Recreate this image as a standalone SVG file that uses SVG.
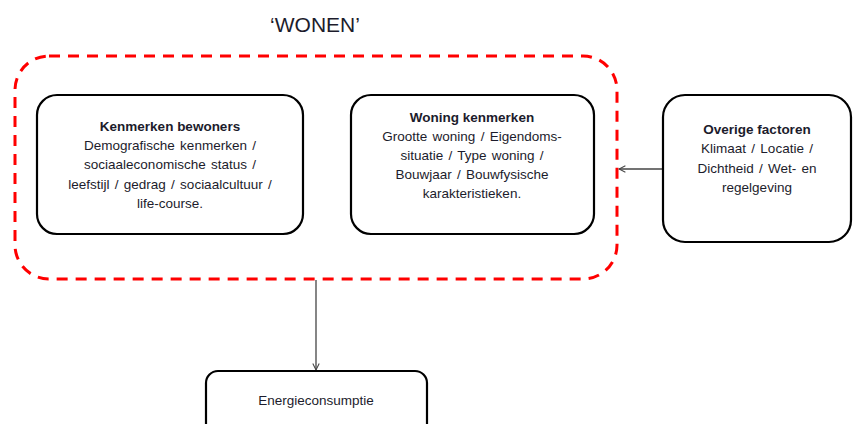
<svg xmlns="http://www.w3.org/2000/svg" width="853" height="424" viewBox="0 0 853 424">
  <style>
    .box { fill: #fff; stroke: #000; stroke-width: 2.2; }
    .group { fill: none; stroke: #f00; stroke-width: 3; stroke-dasharray: 11 8; }
    .link { stroke: #444; stroke-width: 1.3; fill: none; }
    text { font-family: "Liberation Sans", Arial, sans-serif; fill: #1c1c2c; text-anchor: middle; font-size: 13.5px; word-spacing: 1.5px; }
    .head { font-weight: bold; word-spacing: 0; }
    .title { font-size: 21px; word-spacing: 0; }
  </style>
  <defs>
    <marker id="arrow" viewBox="0 0 10 10" refX="9" refY="5" markerWidth="8" markerHeight="8" orient="auto" markerUnits="userSpaceOnUse">
      <path d="M1,1 L9,5 L1,9" fill="none" stroke="#444" stroke-width="1.3"/>
    </marker>
  </defs>

  <rect class="group" x="15" y="56" width="602" height="223" rx="34"/>
  <text class="title" x="315" y="32">‘WONEN’</text>

  <g id="connectors">
    <line class="link" x1="663" y1="169" x2="619" y2="169" marker-end="url(#arrow)"/>
    <line class="link" x1="316" y1="280" x2="316" y2="370" marker-end="url(#arrow)"/>
  </g>

  <g id="kenmerken-bewoners">
    <rect class="box" x="37" y="95" width="266" height="139" rx="20"/>
    <text class="head" x="170" y="131">Kenmerken bewoners</text>
    <text x="170" y="150">Demografische kenmerken /</text>
    <text x="170" y="169">sociaaleconomische  status /</text>
    <text x="170" y="189">leefstijl / gedrag / sociaalcultuur  /</text>
    <text x="170" y="208">life-course.</text>
  </g>

  <g id="woning-kenmerken">
    <rect class="box" x="351" y="95" width="243" height="139" rx="20"/>
    <text class="head" x="472" y="122">Woning kenmerken</text>
    <text x="472" y="141">Grootte woning / Eigendoms-</text>
    <text x="472" y="160">situatie / Type woning /</text>
    <text x="472" y="179">Bouwjaar / Bouwfysische</text>
    <text x="472" y="198">karakteristieken.</text>
  </g>

  <g id="overige-factoren">
    <rect class="box" x="663" y="95" width="188" height="147" rx="22"/>
    <text class="head" x="757" y="134">Overige factoren</text>
    <text x="757" y="153">Klimaat / Locatie /</text>
    <text x="757" y="173">Dichtheid / Wet- en</text>
    <text x="757" y="192">regelgeving</text>
  </g>

  <g id="energieconsumptie">
    <rect class="box" x="206" y="371" width="221" height="70" rx="12"/>
    <text x="316" y="405">Energieconsumptie</text>
  </g>
</svg>
